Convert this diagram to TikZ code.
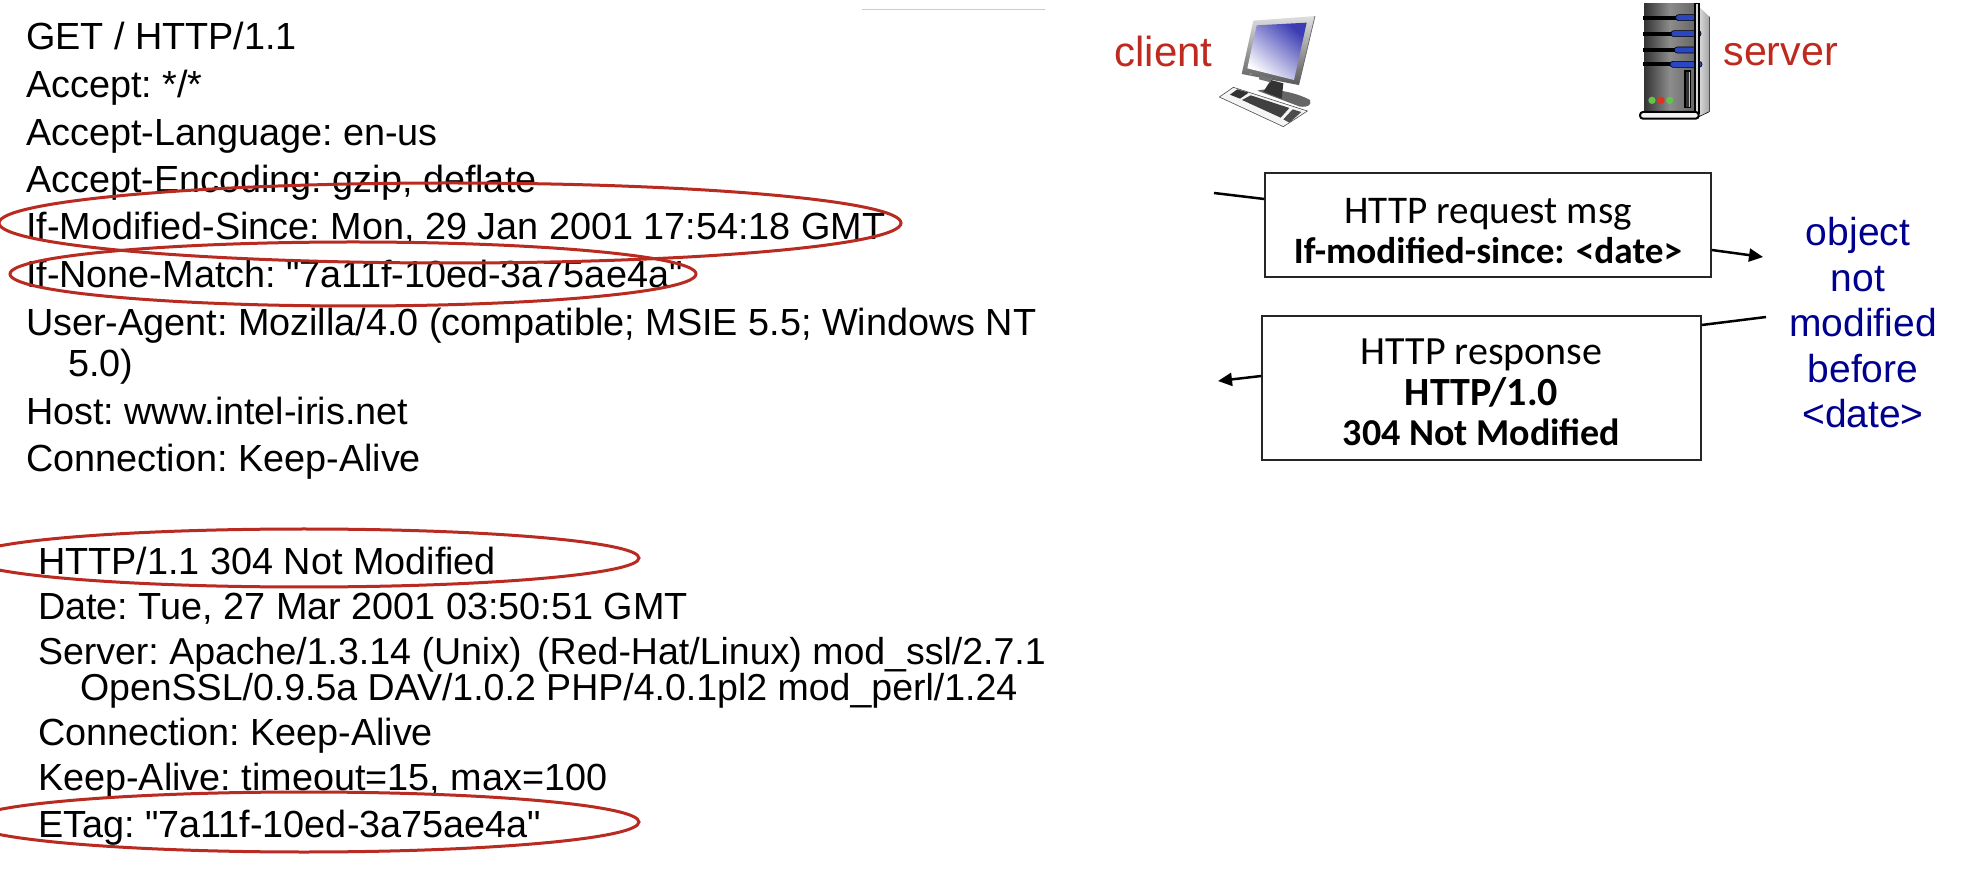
\documentclass[tikz,border=0pt]{standalone}
\usepackage{fontspec}
\setmainfont{Liberation Sans}
\newfontfamily\hdrfont{Liberation Sans}
\newfontfamily\boxfont{Carlito}
\usetikzlibrary{shapes.geometric,arrows.meta}
\definecolor{ringred}{HTML}{B92B20}
\definecolor{labelred}{HTML}{BF2A1E}
\definecolor{objblue}{HTML}{00008F}
\definecolor{ruleolive}{HTML}{CFCFA8}
\definecolor{screentop}{HTML}{3C3CB4}
\definecolor{screenmid}{HTML}{B4B4E2}
\definecolor{pillmid}{HTML}{7FA4FF}
\definecolor{pilledge}{HTML}{2A46C0}
\definecolor{ledgreen}{HTML}{62C44A}
\definecolor{ledred}{HTML}{E0301F}
\newcommand{\hdrsize}{\fontsize{18.9}{20}\selectfont}
\newcommand{\lsz}[1]{\fontsize{#1}{20.2}\selectfont}
\tikzset{
  hdr/.style={anchor=base west,inner sep=0pt,outer sep=0pt,yshift=-1.1pt,text=black,font=\hdrfont\frenchspacing\hdrsize},
  ring/.style={ellipse,draw=ringred,line width=1.5pt,inner sep=0pt,minimum width=#1},
  msgbox/.style={draw=black!85,line width=0.75pt,fill=white,inner sep=0pt,align=center,font=\boxfont\fontsize{18.6}{20.2}\selectfont},
  side/.style={anchor=base west,inner sep=0pt,text=labelred},
  wire/.style={draw=black,line width=1.25pt},
  wirearrow/.style={wire,-{Triangle[length=7pt,width=6.5pt]}},
}
\begin{document}
\begin{tikzpicture}[x=0.5pt,y=-0.5pt]
\useasboundingbox (0,0) rectangle (1984,870);
\clip (0,0) rectangle (1984,870);
\fill[white] (0,0) rectangle (1984,870);
% rule top
\draw[ruleolive,line width=0.8pt] (862,9.5) -- (1045,9.5);
% request text
\node[hdr] (l1) at (26,47) {GET / HTTP/1.1};
\node[hdr] (l2) at (26,95) {Accept: */*};
\node[hdr] (l3) at (26,143) {Accept-Language: en-us};
\node[hdr] (l4) at (26,190) {Accept-Encoding: gzip, deflate};
\node[hdr] (l5) at (26,237) {If-Modified-Since: Mon, 29 Jan 2001 17:54:18 GMT};
\node[hdr] (l6) at (26,285) {If-None-Match: "7a11f-10ed-3a75ae4a"};
\node[hdr] (l7) at (26,333) {User-Agent: Mozilla/4.0 (compatible; MSIE 5.5; Windows NT};
\node[hdr] (l8) at (68,374) {5.0)};
\node[hdr] (l9) at (26,422) {Host: www.intel-iris.net};
\node[hdr] (l10) at (26,469) {Connection: Keep-Alive};
% response text
\node[hdr] (r1) at (38,572) {HTTP/1.1 304 Not Modified};
\node[hdr] (r2) at (38,617) {Date: Tue, 27 Mar 2001 03:50:51 GMT};
\node[hdr] (r3) at (38,662) {\fontsize{18.75}{20}\selectfont Server: Apache/1.3.14 (Unix)\hspace{0.42em}(Red-Hat/Linux) mod\_ssl/2.7.1};
\node[hdr] (r4) at (80,698) {\fontsize{18.75}{20}\selectfont OpenSSL/0.9.5a DAV/1.0.2 PHP/4.0.1pl2 mod\_perl/1.24};
\node[hdr] (r5) at (38,743) {Connection: Keep-Alive};
\node[hdr] (r6) at (38,788) {Keep-Alive: timeout=15, max=100};
\node[hdr] (r7) at (38,835) {ETag: "7a11f-10ed-3a75ae4a"};
% rings
\node[ring=451pt,minimum height=40pt] (e1) at (450,223) {};
\node[ring=343pt,minimum height=32pt] (e2) at (353,274) {};
\node[ring=335pt,minimum height=29pt] (e3) at (304,558) {};
\node[ring=335pt,minimum height=30pt] (e4) at (304,822) {};
% labels
\node[side,font=\fontsize{21}{22}\selectfont] (client) at (1114,67) {client};
\node[side,font=\fontsize{20.6}{22}\selectfont] (server) at (1723,66) {server};
% computer icon
\begin{scope}[shift={(1200,0)},x=0.166667pt,y=-0.166667pt]
 \fill[white!92!gray] (58,291) -- (100,262) -- (322,333) -- (250,380) -- cycle;
 \draw[gray!60!black,line width=0.3pt] (58,291) -- (100,262) -- (322,333) -- (250,380) -- cycle;
 \fill[black!80] (90,284) -- (112,268) -- (146,278) -- (120,296) -- cycle;
 \fill[black!75] (126,300) -- (152,286) -- (268,324) -- (242,353) -- cycle;
 \fill[black!70] (250,358) -- (278,328) -- (304,336) -- (268,368) -- cycle;
 \fill[gray!80!black] (172,272) .. controls (205,262) and (285,275) .. (330,300) .. controls (335,315) and (325,322) .. (300,320) -- cycle;
 \fill[black!80] (213,240) -- (250,250) -- (245,296) -- (190,275) -- cycle;
 \shade[bottom color=gray!70!black,top color=gray!25] (160,62) -- (345,48) -- (296,255) -- (125,222) -- cycle;
 \draw[black!60,line width=0.35pt] (345,48) -- (296,255);
 \shade[top color=screentop,middle color=screenmid,bottom color=white,shading angle=-40] (170,76) -- (320,68) -- (282,240) -- (142,205) -- cycle;
 \fill[black!55] (178,226) -- (215,234) -- (212,247) -- (177,238) -- cycle;
 \fill[black!45] (152,222) circle (4);
\end{scope}
% server icon
\begin{scope}[shift={(1620,0)},x=0.166667pt,y=-0.166667pt]
 \shade[left color=gray!30,right color=gray!70] (237,20) -- (268,50) -- (268,335) -- (237,350) -- cycle;
 \draw[black,line width=0.3pt] (268,50) -- (268,335) -- (237,350);
 \shade[left color=black!80,right color=black!60,middle color=black!45] (72,12) rectangle (226,335);
 \foreach \yy/\ax/\bx in {53/167/228,101/153/243,150/163/228,193/150/246}{
   \fill[black] (70,\yy-6) rectangle (\ax+8,\yy+6);
   \shade[top color=pilledge,middle color=pillmid,bottom color=pilledge,draw=black,line width=0.3pt,rounded corners=1.4pt] (\ax,\yy-9) rectangle (\bx,\yy+9);
 }
 \fill[black!25,draw=black,line width=0.8pt] (195,213) rectangle (211,323);
 \fill[black!80] (198,216) rectangle (208,320);
 \fill[ledgreen] (96,301) circle (11);
 \fill[ledred] (123,301) circle (11);
 \fill[ledgreen] (149,301) circle (11);
 \fill[gray!30,draw=black,line width=0.8pt] (225,11) rectangle (237,340);
 \fill[white!90!gray,draw=black,line width=1pt,rounded corners=1.5pt] (60,336) rectangle (236,356);
\end{scope}
% message boxes
\node[msgbox,minimum width=223pt,minimum height=52pt] (req) at (1488,225) {\rule{0pt}{18.5pt}\lsz{19.6}HTTP request msg\\\textbf{If-modified-since: <date>}};
\node[msgbox,minimum width=219.5pt,minimum height=72pt] (res) at (1481.5,388) {\rule{0pt}{17.5pt}\lsz{20}HTTP response\\\lsz{20}\textbf{HTTP/1.0}\\\lsz{19}\textbf{304 Not Modified}};
% object text
\node[inner sep=0pt,align=center,text=objblue,font=\fontsize{19.5}{22.75}\selectfont] (obj) at (1863,323)
 {object\kern5pt\\not\kern5pt\\modified\\before\\<date>};
% connectors
\coordinate (cin) at (1214,193);
\coordinate (sin) at (1763,257);
\coordinate (sout) at (1766,317);
\coordinate (cout) at (1218,381);
\draw[wire] (cin) -- ([yshift=13pt]req.west);
\draw[wirearrow] ([yshift=-12.5pt]req.east) -- (sin);
\draw[wire] (sout) -- ([yshift=31.5pt]res.east);
\draw[wirearrow] ([yshift=6pt]res.west) -- (cout);
\end{tikzpicture}
\end{document}
